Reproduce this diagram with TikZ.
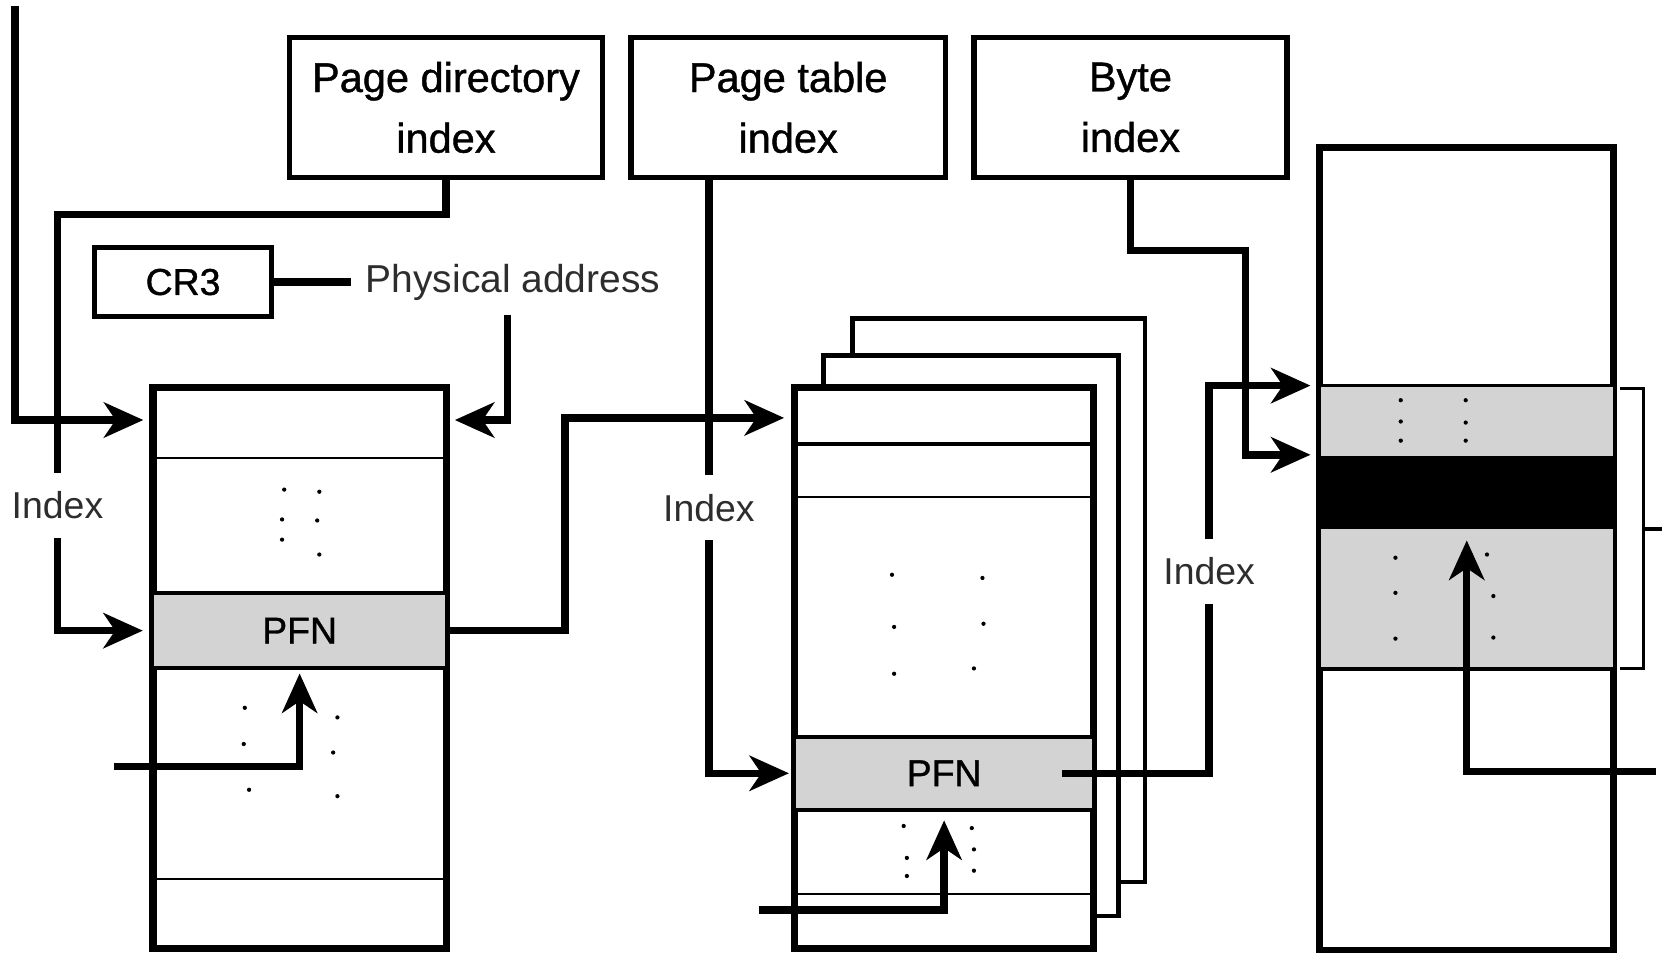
\documentclass[tikz,border=0pt]{standalone}
\usepackage{fontspec}
\setmainfont{Liberation Sans}
\newfontfamily\boxfont[FakeBold=1]{Liberation Sans}
\usetikzlibrary{arrows.meta,calc}
\definecolor{cellgray}{RGB}{211,211,211}
\definecolor{labelgray}{RGB}{45,45,45}
\begin{document}
\begin{tikzpicture}[x=0.01cm,y=-0.01cm,
  conn/.style={line width=0.07cm, line join=miter},
  arr/.style={conn, -{Stealth[length=0.37cm,width=0.33cm,inset=0.11cm]}},
  idxbox/.style={draw, line width=0.05cm, inner sep=0pt, minimum width=2.94cm,
     minimum height=1.32cm, align=center, font=\boxfont\fontsize{11.1}{16.2}\selectfont},
  tbl/.style={draw, fill=white, line width=0.045cm, inner sep=0pt},
  tblline/.style={line width=0.045cm},
  cell/.style={fill=cellgray, inner sep=0pt, font=\boxfont\fontsize{10}{12}\selectfont},
  sepline/.style={line width=0.02cm},
  rowline/.style={line width=0.035cm},
  lbl/.style={font=\fontsize{10}{12}\selectfont, text=labelgray, inner sep=0pt, minimum height=0.6cm},
  dt/.style={fill=black}
]
\useasboundingbox (0,0) rectangle (1568,895);

% ---------- index boxes ----------
\node[idxbox] (pdi) at (419,101) {Page directory\\index};
\node[idxbox, minimum width=2.95cm] (pti) at (740.5,101) {Page table\\index};
\node[idxbox] (bi) at (1062,101) {Byte\\index};
\node[idxbox, line width=0.045cm, minimum width=1.66cm, minimum height=0.65cm,
      font=\boxfont\fontsize{10}{12}\selectfont] (cr3) at (172,265) {CR3};
\node[lbl, anchor=west, inner sep=0.13cm, font=\fontsize{10.4}{12}\selectfont] (phys) at (330,265) {Physical address};

% ---------- page directory ----------
\node[tbl, minimum width=2.73cm, minimum height=5.25cm] (pd) at (281.5,627.5) {};
\node[cell, minimum width=2.73cm, minimum height=0.69cm] (pdpfn) at (281.5,592.5) {PFN};
\draw[rowline] (pdpfn.north west) -- (pdpfn.north east);
\draw[rowline] (pdpfn.south west) -- (pdpfn.south east);
\draw[sepline] (145,430) -- (418,430);
\draw[sepline] (145,826) -- (418,826);
\draw[tblline] (pd.north west) rectangle (pd.south east);
\foreach \p in {(267,460),(300,462),(265,488),(298,489),(265,507),(300,521),
                (230,665),(317,674),(229,699),(313,707),(234,742),(317,748)}
  \fill[dt] \p circle[radius=0.02cm];

% ---------- page table stack ----------
\node[tbl, minimum width=2.75cm, minimum height=5.29cm] (ptback) at (1078,297) [anchor=north east] {};
\node[tbl, minimum width=2.77cm, minimum height=5.26cm] (ptmid) at (1053,332) [anchor=north east] {};
\node[tbl, minimum width=2.78cm, minimum height=5.25cm] (pt) at (887,627.5) {};
\node[cell, minimum width=2.78cm, minimum height=0.67cm] (ptpfn) at (887,726.5) {PFN};
\draw[rowline] (ptpfn.north west) -- (ptpfn.north east);
\draw[rowline] (ptpfn.south west) -- (ptpfn.south east);
\draw[rowline] (748,417) -- (1026,417);
\draw[sepline] (748,467) -- (1026,467);
\draw[sepline] (748,840) -- (1026,840);
\draw[tblline] (pt.north west) rectangle (pt.south east);
\foreach \p in {(838,540),(923,543),(840,589),(924,586),(840,633),(915,628),
                (849,776),(913,778),(852,806),(915,798),(852,823),(915,818)}
  \fill[dt] \p circle[radius=0.02cm];

% ---------- page ----------
\node[tbl, minimum width=2.74cm, minimum height=7.52cm] (pg) at (1378,516) {};
\node[cell, minimum width=2.74cm, minimum height=0.65cm] (pgrow1) at (1378,395.5) {};
\node[fill=black, inner sep=0pt, minimum width=2.74cm, minimum height=0.69cm] (pgband) at (1378,462.5) {};
\node[cell, minimum width=2.74cm, minimum height=1.31cm] (pgrow2) at (1378,562.5) {};
\draw[rowline] (pgrow1.north west) -- (pgrow1.north east);
\draw[rowline] (pgrow2.south west) -- (pgrow2.south east);
\draw[tblline] (pg.north west) rectangle (pg.south east);
\foreach \p in {(1316,376),(1377,376),(1316,396),(1377,397),(1316,414),(1377,414),
                (1311,524),(1397,521),(1311,557),(1403,560),(1311,600),(1403,599)}
  \fill[dt] \p circle[radius=0.02cm];
% bracket
\draw[line width=0.03cm] (1522,365) -- (1544,365) -- (1544,628) -- (1522,628);
\draw[line width=0.03cm] (1544,497) -- (1561,497);

% ---------- labels ----------
\node[lbl] (idx1) at (54,475) {Index};
\node[lbl] (idx2) at (666,477) {Index};
\node[lbl] (idx3) at (1136,537) {Index};

% ---------- free ends ----------
\coordinate (in1) at (14,6);
\coordinate (in2a) at (107,720);
\coordinate (in2b) at (713,855);
\coordinate (in3) at (1556,725);

% ---------- connectors ----------
\draw[arr, shorten >=0.08cm] (in1) |- ([yshift=-0.32cm]pd.north west);
\draw[conn] (pdi.south) -- ++(0,32) -| (idx1.north);
\draw[arr, shorten >=0.1cm] (idx1.south) |- (pdpfn.west);
\draw[conn] (cr3.east) -- (cr3.east -| phys.west);
\draw[arr, shorten >=0.07cm] ([xshift=-0.05cm]phys.south) |- ([yshift=-0.32cm]pd.north east);
\draw[arr, shorten >=0.09cm] (pdpfn.east) -- ++(112,0) |- ([yshift=-0.3cm]pt.north west);
\draw[arr, shorten >=0.05cm] (in2a) -| (pdpfn.south);
\draw[conn] (idx2.north |- pti.south) -- (idx2.north);
\draw[arr, shorten >=0.06cm] (idx2.south) |- (ptpfn.west);
\draw[arr, shorten >=0.1cm] (in2b) -| (ptpfn.south);
\draw[conn] ([xshift=-0.29cm]ptpfn.east) -| (idx3.south);
\draw[arr, shorten >=0.09cm] (idx3.north) |- (pgrow1.north west);
\draw[arr, shorten >=0.09cm] (bi.south) -- ++(0,66) -- ++(108,0) |- (pgband.north west);
\draw[arr, shorten >=0.1cm] (in3) -| (pgband.south);
\end{tikzpicture}
\end{document}
